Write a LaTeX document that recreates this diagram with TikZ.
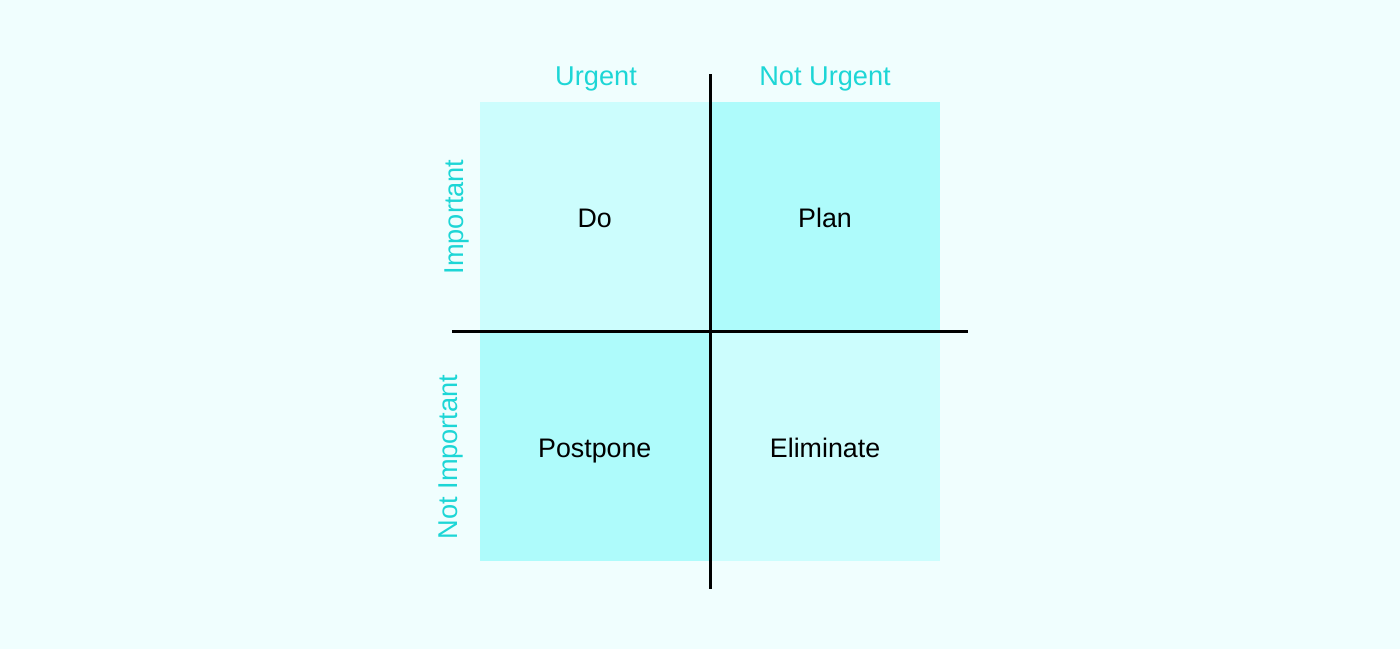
\documentclass[tikz,border=0pt]{standalone}
\usepackage{fontspec}
\setmainfont{Liberation Sans}
\usepackage{tikz}
\usetikzlibrary{positioning}
\definecolor{bgcyan}{HTML}{F0FEFE}
\definecolor{quadlight}{HTML}{CCFDFD}
\definecolor{quaddark}{HTML}{AEFBFB}
\definecolor{axiscyan}{HTML}{1DD6D6}
\tikzset{
    quad/.style={
        rectangle, inner sep=0pt,
        minimum width=114.75pt, minimum height=114.5pt,
        text height=11.4pt, text depth=0pt,
        font=\fontsize{13.4}{16}\selectfont
    },
    axislabel/.style={
        anchor=base, text=axiscyan,
        font=\fontsize{13.6}{16}\selectfont
    },
    axisline/.style={
        line width=1.5pt, black
    }
}

\begin{document}
\begin{tikzpicture}[
    x=0.5pt, y=-0.5pt,
    node distance=0pt
]

\fill[bgcyan] (0,0) rectangle (1400,649);

\node[quad, fill=quadlight] (do) at (594.75,216.5) {Do};
\node[quad, fill=quaddark, right=of do] (plan) {Plan};
\node[quad, fill=quaddark, below=of do] (postpone) {Postpone};
\node[quad, fill=quadlight, right=of postpone] (eliminate) {Eliminate};

\node[axislabel] (urgent) at (596,85) {Urgent};
\node[axislabel] (noturgent) at (825,85) {Not Urgent};
\node[axislabel, rotate=90] (important) at (463,217) {Important};
\node[axislabel, rotate=90] (notimportant) at (457,457) {Not Important};

\coordinate (vtop) at (710,74);
\coordinate (vbottom) at (710,589);
\coordinate (hleft) at (452,331);
\coordinate (hright) at (968,331);

\draw[axisline] (vtop) -- (vbottom);
\draw[axisline] (hleft) -- (hright);

\end{tikzpicture}
\end{document}
